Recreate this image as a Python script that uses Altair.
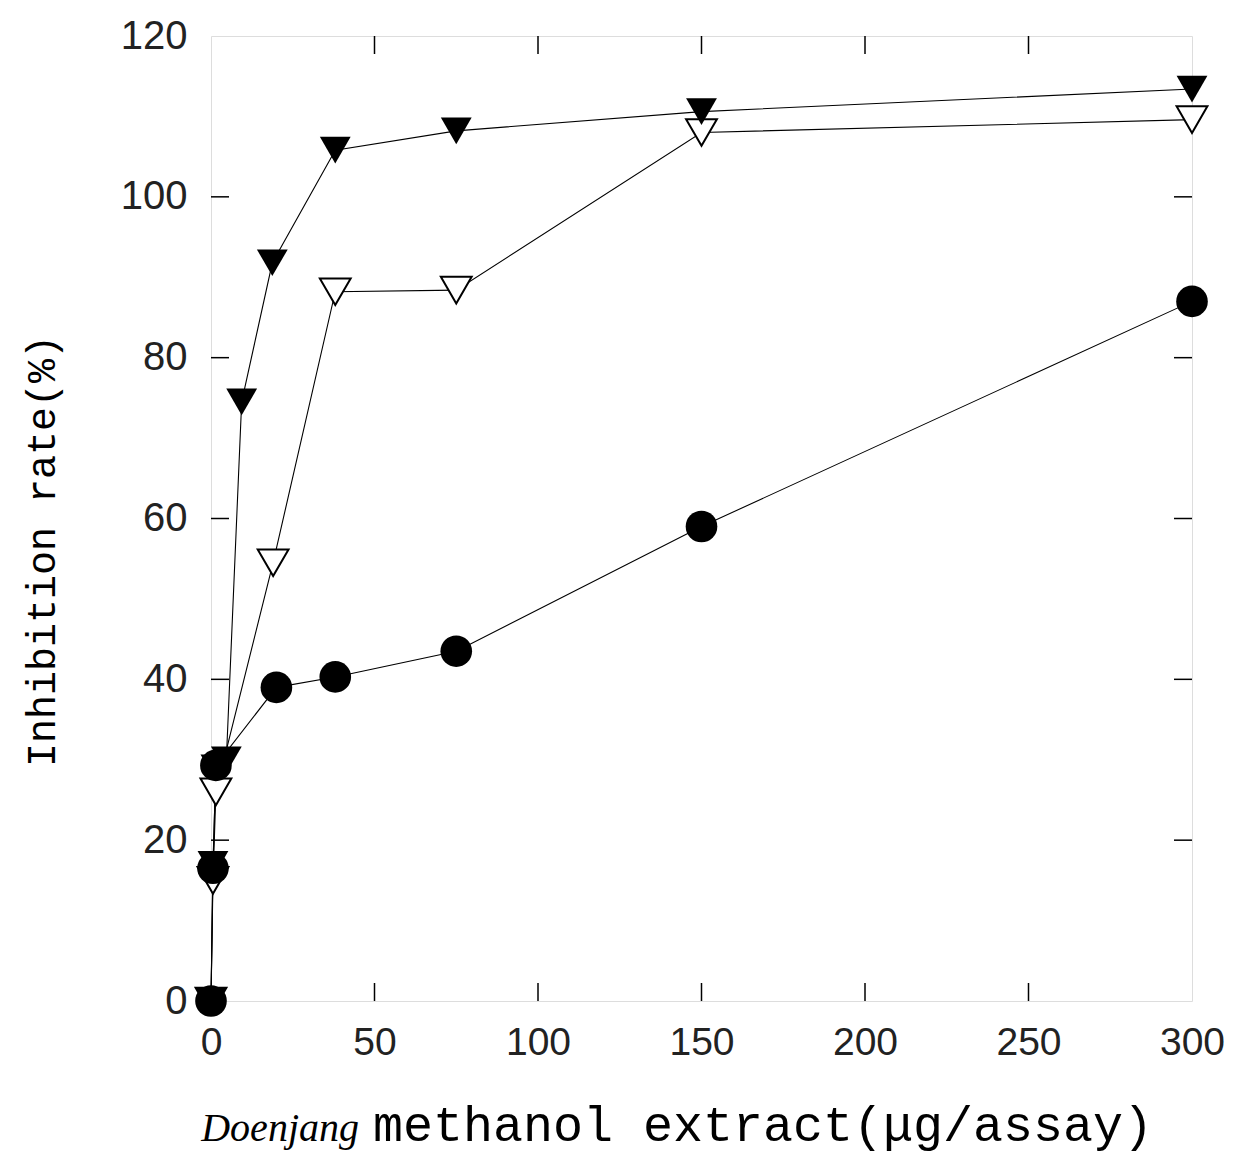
import altair as alt
import pandas as pd

# ---- data ----
dose_filled_tri = [0, 0.6, 1.5, 4.69, 9.38, 18.75, 38, 75, 150, 300]
rate_filled_tri = [0, 17, 29, 30, 74.5, 91.8, 105.8, 108.2, 110.6, 113.4]

dose_open_tri = [0, 0.6, 1.5, 19, 38, 75, 150, 300]
rate_open_tri = [0, 15, 26, 54.5, 88.2, 88.4, 108, 109.6]

dose_circle = [0, 0.6, 1.5, 20, 38, 75, 150, 300]
rate_circle = [0, 16.5, 29.3, 39, 40.3, 43.5, 59, 87]

x_label_values = [0, 50, 100, 150, 200, 250, 300]
y_label_values = [0, 20, 40, 60, 80, 100, 120]
x_inner_ticks = [50, 100, 150, 200, 250]
y_inner_ticks = [20, 40, 60, 80, 100]

x_title_italic = ["Doenjang"]
x_title_rest = ["methanol extract(\u03bcg/assay)"]
y_title = ["Inhibition rate(%)"]

W, H = 981, 965
TICK = 18

rows = []
for name, xs, ys in [("filled", dose_filled_tri, rate_filled_tri),
                     ("open", dose_open_tri, rate_open_tri),
                     ("circle", dose_circle, rate_circle)]:
    for i, (d, r) in enumerate(zip(xs, ys)):
        rows.append({"series": name, "dose": d, "rate": r, "order": i})
df = pd.DataFrame(rows)

xscale = alt.Scale(domain=[0, 300], nice=False, zero=False)
yscale = alt.Scale(domain=[0, 120], nice=False, zero=False)

x_enc = alt.X("dose:Q", scale=xscale,
              axis=alt.Axis(values=x_label_values, ticks=False, domain=False, grid=False,
                            labelFont="Liberation Sans", labelFontSize=39, labelColor="#222",
                            labelPadding=22, title=None, labelFlush=False))
y_enc = alt.Y("rate:Q", scale=yscale,
              axis=alt.Axis(values=y_label_values, ticks=False, domain=False, grid=False,
                            labelFont="Liberation Sans", labelFontSize=40, labelColor="#222",
                            labelPadding=24, title=None, labelFlush=False))

base = alt.Chart(df)

lines = base.mark_line(color="black", strokeWidth=1.1).encode(
    x=x_enc, y=y_enc, detail="series:N", order="order:Q")

filled_pts = base.transform_filter(alt.datum.series == "filled").mark_point(
    shape="triangle-down", filled=True, color="black", size=950, opacity=1
).encode(x="dose:Q", y="rate:Q")

open_pts = base.transform_filter(alt.datum.series == "open").mark_point(
    shape="triangle-down", filled=True, fill="white", stroke="black",
    strokeWidth=2, size=950, opacity=1
).encode(x="dose:Q", y="rate:Q")

circle_pts = base.transform_filter(alt.datum.series == "circle").mark_circle(
    color="black", size=1000, opacity=1
).encode(x="dose:Q", y="rate:Q")

xt = alt.Chart(pd.DataFrame({"dose": x_inner_ticks}))
yt = alt.Chart(pd.DataFrame({"rate": y_inner_ticks}))
tick_bottom = xt.mark_rule(color="black", strokeWidth=1.5).encode(
    x="dose:Q", y=alt.value(H), y2=alt.value(H - TICK))
tick_top = xt.mark_rule(color="black", strokeWidth=1.5).encode(
    x="dose:Q", y=alt.value(0), y2=alt.value(TICK))
tick_left = yt.mark_rule(color="black", strokeWidth=1.5).encode(
    y="rate:Q", x=alt.value(0), x2=alt.value(TICK))
tick_right = yt.mark_rule(color="black", strokeWidth=1.5).encode(
    y="rate:Q", x=alt.value(W), x2=alt.value(W - TICK))

t_italic = alt.Chart(pd.DataFrame({"t": x_title_italic})).mark_text(
    font="Liberation Serif", fontStyle="italic", fontSize=40, align="right",
    baseline="alphabetic", color="black"
).encode(text="t:N", x=alt.value(148), y=alt.value(1105))

t_rest = alt.Chart(pd.DataFrame({"t": x_title_rest})).mark_text(
    font="Liberation Mono", fontSize=50, align="left",
    baseline="alphabetic", color="black"
).encode(text="t:N", x=alt.value(162), y=alt.value(1105))

t_y = alt.Chart(pd.DataFrame({"t": y_title})).mark_text(
    font="Liberation Mono", fontSize=40, align="center", angle=270,
    baseline="alphabetic", color="black"
).encode(text="t:N", x=alt.value(-156), y=alt.value(515))

chart = alt.layer(
    lines, tick_bottom, tick_top, tick_left, tick_right,
    open_pts, filled_pts, circle_pts, t_italic, t_rest, t_y
).properties(
    width=W, height=H,
    autosize=alt.AutoSizeParams(type="none"),
    padding={"left": 203, "top": 28, "right": 32, "bottom": 155},
).configure_view(
    stroke="black", strokeWidth=2
).configure(background="white")

chart.save("out.html", embed_options={"renderer": "svg", "actions": False})
